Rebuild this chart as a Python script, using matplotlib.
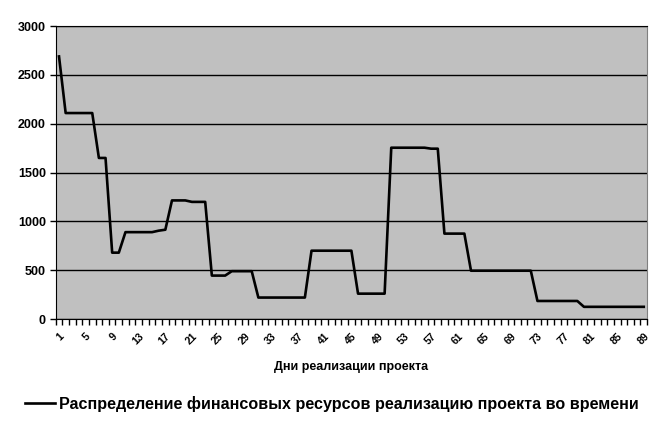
import numpy as np
import matplotlib
matplotlib.use('Agg')
import matplotlib.pyplot as plt

plt.rcParams['font.family'] = ['Liberation Sans', 'DejaVu Sans']

# data: day number and amount
days = list(range(1, 90))
values = ([2690] + [2110]*5 + [1650]*2 + [680]*2 + [890]*5 + [905, 915]
          + [1215]*3 + [1200]*3 + [445]*3 + [490]*4 + [220]*8 + [700]*7
          + [260]*5 + [1755]*6 + [1745]*2 + [875]*4 + [495]*10 + [185]*7
          + [125]*10)
label_days = days[::4]
yticks = [0, 500, 1000, 1500, 2000, 2500, 3000]

series_name = 'Распределение финансовых ресурсов реализацию проекта во времени'
xlabel = 'Дни реализации проекта'

fig = plt.figure(figsize=(6.63, 4.22), dpi=100)
ax = fig.add_axes([0.084, 0.244, 0.892, 0.694])
ax.set_facecolor('#c0c0c0')

ax.plot(days, values, color='black', lw=1.9, label=series_name)

ax.set_xlim(0.5, len(days) + 0.5)
ax.set_ylim(0, 3000)
ax.set_yticks(yticks)
ax.yaxis.grid(True, color='black', lw=1)
ax.set_axisbelow(True)
ax.tick_params(axis='y', length=4, width=1, labelsize=9, pad=3)
for t in ax.get_yticklabels():
    t.set_fontweight('bold')

# category labels every 4 days, tick marks between categories
ax.set_xticks(label_days)
ax.set_xticklabels([str(d) for d in label_days], rotation=45,
                   ha='right', va='top', rotation_mode='anchor',
                   fontsize=7.5, fontweight='bold')
ax.tick_params(axis='x', which='major', length=0, pad=9)
ax.set_xticks(np.arange(0.5, len(days) + 1, 1), minor=True)
ax.tick_params(axis='x', which='minor', length=4, width=1)

ax.spines['left'].set_color('black')
ax.spines['bottom'].set_color('black')
ax.spines['top'].set_color('black')
ax.spines['right'].set_color('#808080')

ax.set_xlabel(xlabel, fontsize=9, fontweight='bold', labelpad=10)

fig.legend(loc='lower center', bbox_to_anchor=(0.5, -0.01), frameon=False,
           prop={'size': 11.6, 'weight': 'bold'}, handlelength=1.9,
           handletextpad=0.2)

fig.savefig('out.png', dpi=100)
